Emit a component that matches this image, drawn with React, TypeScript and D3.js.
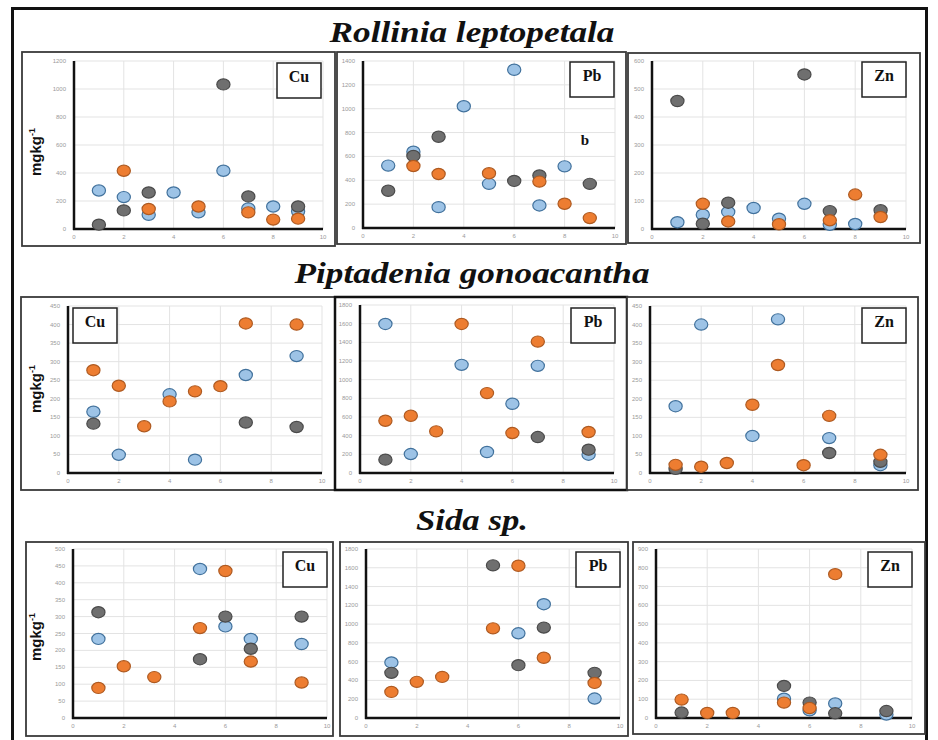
import * as d3 from 'd3';
import React from 'react';

type Pt = [number, number];

const species = ['Rollinia leptopetala', 'Piptadenia gonoacantha', 'Sida sp.'];
const metals = ['Cu', 'Pb', 'Zn'];
const xTicks = [0, 2, 4, 6, 8, 10];
const yMax = [[1200, 1400, 600], [450, 1800, 450], [500, 1800, 900]];
const yStep = [[200, 200, 100], [50, 200, 50], [50, 200, 100]];

// Rollinia leptopetala
const rlCuGray: Pt[] = [[1, 31], [2, 133], [3, 261], [6, 1033], [7, 233], [9, 161]];
const rlCuOrange: Pt[] = [[2, 416], [3, 143], [5, 161], [7, 119], [8, 67], [9, 74]];
const rlCuBlue: Pt[] = [[1, 275], [2, 228], [3, 102], [4, 261], [5, 119], [6, 416], [7, 147], [8, 161], [9, 126]];
const rlPbGray: Pt[] = [[1, 312], [2, 604], [3, 765], [6, 395], [7, 440], [9, 370]];
const rlPbOrange: Pt[] = [[2, 520], [3, 453], [5, 459], [7, 389], [8, 203], [9, 83]];
const rlPbBlue: Pt[] = [[1, 523], [2, 640], [3, 175], [4, 1021], [5, 370], [6, 1327], [7, 189], [8, 517]];
const rlZnGray: Pt[] = [[1, 457], [2, 19], [3, 94], [6, 552], [7, 64], [9, 67]];
const rlZnOrange: Pt[] = [[2, 90], [3, 27], [5, 17], [7, 31], [8, 123], [9, 43]];
const rlZnBlue: Pt[] = [[1, 24], [2, 51], [3, 61], [4, 75], [5, 37], [6, 90], [7, 15], [8, 18]];

// Piptadenia gonoacantha
const pgCuGray: Pt[] = [[1, 133], [7, 136], [9, 124]];
const pgCuOrange: Pt[] = [[1, 277], [2, 235], [3, 126], [4, 193], [5, 220], [6, 234], [7, 403], [9, 400]];
const pgCuBlue: Pt[] = [[1, 165], [2, 49], [4, 212], [5, 36], [7, 264], [9, 315]];
const pgPbGray: Pt[] = [[1, 143], [7, 385], [9, 250]];
const pgPbOrange: Pt[] = [[1, 560], [2, 613], [3, 446], [4, 1597], [5, 856], [6, 428], [7, 1408], [9, 439]];
const pgPbBlue: Pt[] = [[1, 1597], [2, 203], [4, 1159], [5, 225], [6, 742], [7, 1148], [9, 196]];
const pgZnGray: Pt[] = [[1, 11], [7, 54], [9, 30]];
const pgZnOrange: Pt[] = [[1, 22], [2, 17], [3, 27], [4, 184], [5, 291], [6, 21], [7, 154], [9, 49]];
const pgZnBlue: Pt[] = [[1, 180], [2, 400], [4, 100], [5, 414], [7, 94], [9, 21]];

// Sida sp.
const sCuGray: Pt[] = [[1, 313], [5, 174], [6, 300], [7, 205], [9, 300]];
const sCuOrange: Pt[] = [[1, 89], [2, 153], [3.2, 121], [5, 266], [6, 435], [7, 167], [9, 105]];
const sCuBlue: Pt[] = [[1, 234], [5, 441], [6, 271], [7, 234], [9, 219]];
const sPbGray: Pt[] = [[1, 481], [5, 1626], [6, 563], [7, 963], [9, 481]];
const sPbOrange: Pt[] = [[1, 278], [2, 385], [3, 438], [5, 955], [6, 1622], [7, 642], [9, 374]];
const sPbBlue: Pt[] = [[1, 592], [6, 902], [7, 1212], [9, 207]];
const sZnGray: Pt[] = [[1, 29], [5, 171], [6, 82], [7, 25], [9, 37]];
const sZnOrange: Pt[] = [[1, 98], [2, 27], [3, 27], [5, 82], [6, 53], [7, 766]];
const sZnBlue: Pt[] = [[5, 103], [6, 41], [7, 77], [9, 18]];

const panelData = [
  [[rlCuBlue, rlCuGray, rlCuOrange], [rlPbBlue, rlPbGray, rlPbOrange], [rlZnBlue, rlZnGray, rlZnOrange]],
  [[pgCuBlue, pgCuGray, pgCuOrange], [pgPbBlue, pgPbGray, pgPbOrange], [pgZnBlue, pgZnGray, pgZnOrange]],
  [[sCuBlue, sCuGray, sCuOrange], [sPbBlue, sPbGray, sPbOrange], [sZnBlue, sZnGray, sZnOrange]],
];

// drawn in this order: blue, gray, orange
const fills = ['#9DC3E6', '#6F6F6F', '#ED7D31'];
const strokes = ['#41719C', '#4A4A4A', '#AE5A21'];

// layout (pixels): frame [x0,y0,x1,y1], plot [left,right,top,bottom], box [x,y]
const layout = [
  [
    { frame: [22, 52, 335, 246], plot: [74, 323, 61, 229], box: [277, 63] },
    { frame: [337, 52, 626, 244], plot: [363, 615, 61, 228], box: [570, 62] },
    { frame: [628, 53, 920, 243], plot: [652, 906, 61, 229], box: [862, 62] },
  ],
  [
    { frame: [21, 297, 335, 490], plot: [68, 322, 306, 473], box: [73, 308] },
    { frame: [335, 297, 627, 490], plot: [360, 614, 305, 473], box: [571, 308] },
    { frame: [627, 297, 918, 490], plot: [650, 906, 306, 473], box: [862, 308] },
  ],
  [
    { frame: [26, 542, 333, 736], plot: [73, 327, 549, 718], box: [283, 552] },
    { frame: [340, 542, 628, 736], plot: [366, 620, 549, 718], box: [576, 552] },
    { frame: [633, 542, 925, 734], plot: [656, 912, 549, 718], box: [868, 552] },
  ],
];
const titleY = [42, 283, 530];
const titleWidth = [285, 355, 112];
const unitY = [152, 389, 637];

const Panel: React.FC<{ r: number; c: number }> = ({ r, c }) => {
  const L = layout[r][c];
  const [l, rr, t, b] = L.plot;
  const x = d3.scaleLinear().domain([0, 10]).range([l, rr]);
  const y = d3.scaleLinear().domain([0, yMax[r][c]]).range([b, t]);
  const yTicks = d3.range(0, yMax[r][c] + 1, yStep[r][c]);
  const [fx0, fy0, fx1, fy1] = L.frame;
  const thick = r === 1 && c === 1;
  return (
    <g>
      <rect x={fx0} y={fy0} width={fx1 - fx0} height={fy1 - fy0} fill="#fff"
        stroke={thick ? '#111' : '#3a3a3a'} strokeWidth={thick ? 2.5 : 1.8} />
      {yTicks.map((v) => (
        <g key={'y' + v}>
          {v > 0 && <line x1={x(0)} x2={x(10)} y1={y(v)} y2={y(v)} stroke="#e3e3e3" strokeWidth={1} />}
          <text x={x(0) - 8} y={y(v) + 2} fontSize={6} fill="#9a9a9a" textAnchor="end"
            fontFamily="Liberation Sans, Arial, sans-serif">{v}</text>
        </g>
      ))}
      {xTicks.map((v) => (
        <g key={'x' + v}>
          {v > 0 && <line x1={x(v)} x2={x(v)} y1={y(yMax[r][c])} y2={y(0)} stroke="#e3e3e3" strokeWidth={1} />}
          <text x={x(v)} y={y(0) + 10} fontSize={6} fill="#9a9a9a" textAnchor="middle"
            fontFamily="Liberation Sans, Arial, sans-serif">{v}</text>
        </g>
      ))}
      <line x1={x(0)} x2={x(0)} y1={y(yMax[r][c])} y2={y(0) + 1} stroke="#111" strokeWidth={2.5} />
      <line x1={x(0) - 1} x2={x(10)} y1={y(0)} y2={y(0)} stroke="#111" strokeWidth={2.5} />
      {panelData[r][c].map((series, si) =>
        series.map((p, i) => (
          <ellipse key={si + '-' + i} cx={x(p[0])} cy={y(p[1])} rx={6.6} ry={5.6}
            fill={fills[si]} stroke={strokes[si]} strokeWidth={1.2} />
        ))
      )}
      <rect x={L.box[0]} y={L.box[1]} width={44} height={35} fill="#fff" stroke="#222" strokeWidth={1.5} />
      <text x={L.box[0] + 22} y={L.box[1] + 19} textAnchor="middle" fontSize={16} fontWeight="bold"
        fontFamily="Liberation Serif, Times New Roman, serif" fill="#111">{metals[c]}</text>
    </g>
  );
};

const App: React.FC = () => {
  return (
    <svg width={938} height={740} style={{ position: 'absolute', left: 0, top: 0 }}>
      <rect x={0} y={0} width={938} height={740} fill="#fff" />
      <rect x={12.5} y={8.5} width={914} height={740} fill="none" stroke="#111" strokeWidth={3} />
      {species.map((s, r) => (
        <g key={s}>
          <text x={472} y={titleY[r]} textAnchor="middle" fontSize={30} fontWeight="bold" fontStyle="italic"
            textLength={titleWidth[r]} lengthAdjust="spacingAndGlyphs"
            fontFamily="Liberation Serif, Times New Roman, serif" fill="#111">{s}</text>
          {metals.map((m, c) => <Panel key={m} r={r} c={c} />)}
          <text transform={`translate(${41},${unitY[r]}) rotate(-90)`} textAnchor="middle" fontSize={15}
            fontWeight="bold" fontFamily="Liberation Sans, Arial, sans-serif" fill="#111">
            mgkg<tspan fontSize={9} dy={-6}>-1</tspan>
          </text>
        </g>
      ))}
      <text x={585} y={145} textAnchor="middle" fontSize={15} fontWeight="bold"
        fontFamily="Liberation Serif, Times New Roman, serif" fill="#111">b</text>
    </svg>
  );
};

export default App;
